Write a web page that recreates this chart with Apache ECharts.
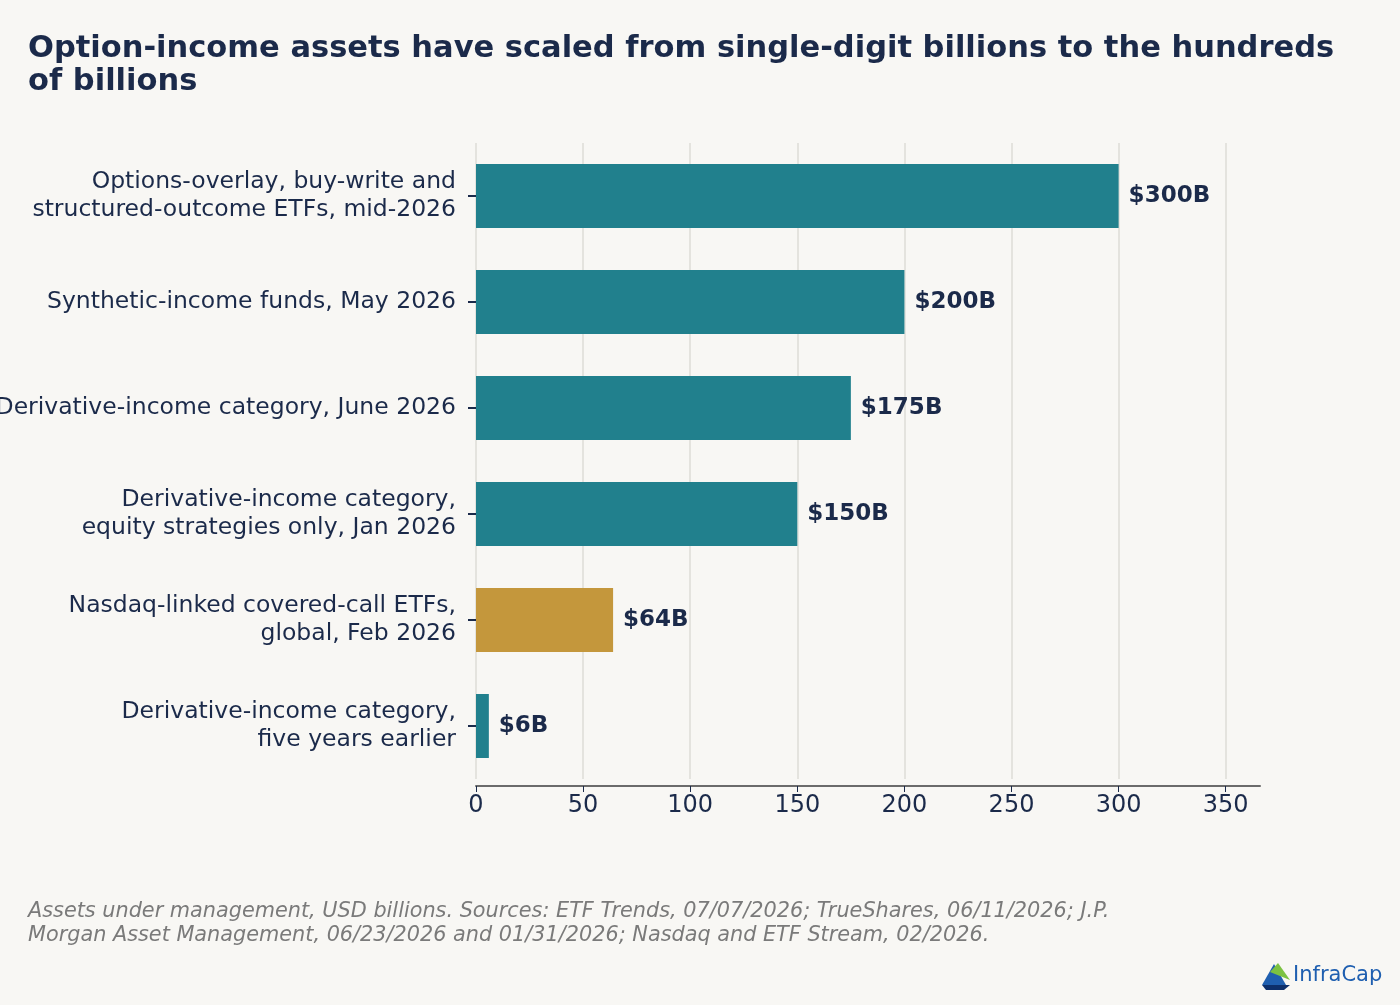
<!DOCTYPE html>
<html>
<head>
<meta charset="utf-8">
<style>
html,body{margin:0;padding:0;background:#f8f7f4;}
#charts{width:1400px;height:1005px;}
</style>
<script src="https://cdn.jsdelivr.net/npm/echarts@6/dist/echarts.min.js"></script>
</head>
<body>
<div id="charts"></div>
<script>
var navy = '#1b2a4a';
var teal = '#21808d';
var gold = '#c4973c';

var categories = [
    "Derivative-income category,\nfive years earlier",
    "Nasdaq-linked covered-call ETFs,\nglobal, Feb 2026",
    "Derivative-income category,\nequity strategies only, Jan 2026",
    "Derivative-income category, June 2026",
    "Synthetic-income funds, May 2026",
    "Options-overlay, buy-write and\nstructured-outcome ETFs, mid-2026"
];
var values = [6, 64, 150, 175, 200, 300];

var option = {
    backgroundColor: '#f8f7f4',
    textStyle: { fontFamily: 'DejaVu Sans' },
    title: {
        text: "Option-income assets have scaled from single-digit billions to the hundreds\nof billions",
        left: 23, top: 28,
        textStyle: { color: navy, fontSize: 30.5, fontWeight: 'bold', lineHeight: 33 }
    },
    grid: { left: 476, right: 140, top: 143, bottom: 226, outerBoundsMode: 'none', containLabel: false },
    xAxis: {
        type: 'value',
        min: 0, max: 366, interval: 50,
        offset: 7,
        axisLine: { show: true, lineStyle: { color: '#6b6b6b', width: 2 } },
        axisTick: { show: true, length: 6, lineStyle: { color: navy } },
        axisLabel: { color: navy, fontSize: 24, margin: 8, showMaxLabel: false,
            formatter: function (v) { return v % 50 === 0 ? v : ''; } },
        splitLine: { show: true, showMaxLine: false, lineStyle: { color: '#e4e3de', width: 2 } }
    },
    yAxis: {
        type: 'category',
        data: categories,
        axisLine: { show: false },
        axisTick: { show: true, length: 8, alignWithLabel: true, lineStyle: { color: navy, width: 2 } },
        axisLabel: { color: navy, fontSize: 23.5, lineHeight: 28, margin: 20, align: 'right' }
    },
    series: [{
        type: 'bar',
        barWidth: 64,
        data: values.map(function (v, i) {
            return { value: v, itemStyle: { color: i === 1 ? gold : teal } };
        }),
        label: {
            show: true, position: 'right', distance: 10,
            color: navy, fontSize: 23, fontWeight: 'bold',
            formatter: function (p) { return '$' + p.value + 'B'; }
        }
    }],
    graphic: [
        {
            type: 'text', left: 28, top: 900,
            style: {
                text: "Assets under management, USD billions. Sources: ETF Trends, 07/07/2026; TrueShares, 06/11/2026; J.P.\nMorgan Asset Management, 06/23/2026 and 01/31/2026; Nasdaq and ETF Stream, 02/2026.",
                fill: '#7a7a7a', font: 'italic 20.8px DejaVu Sans', lineHeight: 24
            }
        },
        { type: 'polygon', shape: { points: [[1262, 985], [1274, 964], [1286, 985]] }, style: { fill: '#1f5fb0' } },
        { type: 'polygon', shape: { points: [[1270, 972], [1278, 963], [1290, 980]] }, style: { fill: '#7cc242' } },
        { type: 'polygon', shape: { points: [[1262, 985], [1290, 985], [1284, 990], [1266, 990]] }, style: { fill: '#0d2f6b' } },
        {
            type: 'text', left: 1293, top: 965,
            style: { text: 'InfraCap', fill: '#1f5fb0', font: '21px DejaVu Sans' }
        }
    ]
};

var myChart = echarts.init(document.getElementById('charts'));
myChart.setOption(option);
</script>
</body>
</html>
